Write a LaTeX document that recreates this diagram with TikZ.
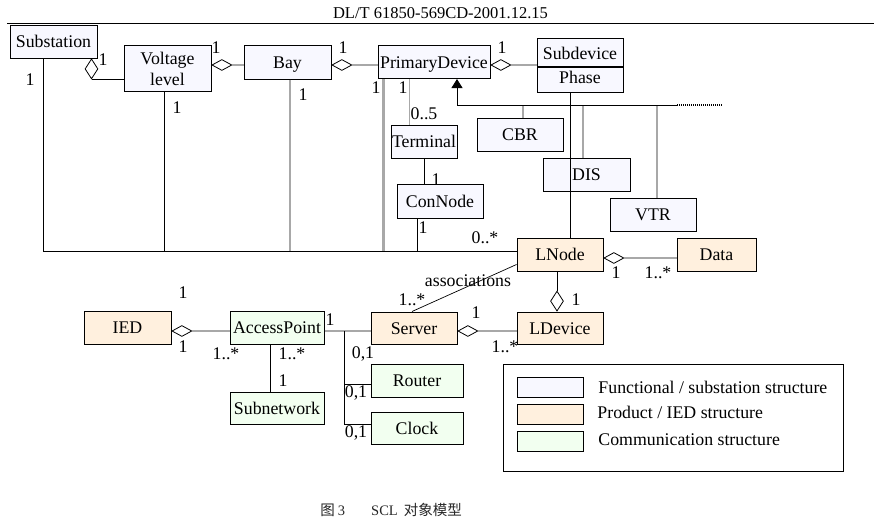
\documentclass[tikz,border=0pt]{standalone}
\usepackage{fontspec}
\setmainfont{Liberation Serif}
\newfontfamily\cjk{Noto Sans CJK SC}
\usetikzlibrary{shapes.geometric,arrows.meta}
\definecolor{funcol}{HTML}{F8F8FF}
\definecolor{procol}{HTML}{FFF0DE}
\definecolor{comcol}{HTML}{F2FFF0}
\definecolor{linegray}{HTML}{A8A8A8}

\begin{document}
\begin{tikzpicture}[x=1pt,y=-1pt,line width=0.9pt,
    every node/.style={font=\fontsize{17.8}{21}\selectfont, inner sep=0pt},
    fbox/.style={draw, line width=1pt, fill=funcol, minimum height=33pt, text height=13pt, text depth=1pt},
    pbox/.style={fbox, fill=procol},
    cbox/.style={fbox, fill=comcol},
    gline/.style={draw=linegray, line width=1.3pt},
    hagg/.style={draw, diamond, fill=white, line width=0.8pt, minimum width=20pt, minimum height=11pt},
    vagg/.style={hagg, minimum width=13pt, minimum height=20pt}]
    \useasboundingbox (0,0) rectangle (887,525) ;

    \node[font=\fontsize{16.5}{18}\selectfont] (hdr) at (440.5,13.5) {DL/T 61850-569CD-2001.12.15} ;
    \draw[line width=1pt] (7,23) -- (874,23) ;

    \node[fbox, minimum width=87pt] (sub) at (53.5,41.5) {Substation} ;
    \node[fbox, minimum width=87pt, minimum height=46pt, align=center, text height=34pt, text depth=0pt] (vl) at (167.5,68) {Voltage\\level} ;
    \node[fbox, minimum width=87pt, minimum height=34pt] (bay) at (287.5,62) {Bay} ;
    \node[fbox, minimum width=112pt] (pd) at (434,62) {PrimaryDevice} ;
    \node[fbox, minimum width=86pt, minimum height=28pt, text height=15pt, text depth=-1pt] (sdev) at (580,52) {Subdevice} ;
    \node[fbox, minimum width=86pt, minimum height=25pt, text height=10pt, text depth=2pt, anchor=north] (phase) at (sdev.south) {Phase} ;
    \node[fbox, minimum width=66pt] (term) at (424,141.5) {Terminal} ;
    \node[fbox, minimum width=86pt, minimum height=34pt] (con) at (440,201) {ConNode} ;
    \node[fbox, minimum width=86pt] (cbr) at (520,134.5) {CBR} ;
    \node[fbox, minimum width=87pt] (dis) at (586.5,174.5) {DIS} ;
    \node[fbox, minimum width=86pt] (vtr) at (653,214.5) {VTR} ;

    \node[pbox, minimum width=86pt] (lnode) at (560,254.5) {LNode} ;
    \node[pbox, minimum width=79pt] (data) at (716.5,254.5) {Data} ;
    \node[pbox, minimum width=86pt, minimum height=32pt] (srv) at (414,328) {Server} ;
    \node[pbox, minimum width=86pt, minimum height=32pt] (ldev) at (560,328) {LDevice} ;
    \node[pbox, minimum width=87pt] (ied) at (127.5,327.5) {IED} ;
    \node[cbox, minimum width=94pt] (ap) at (277,327.5) {AccessPoint} ;
    \node[cbox, minimum width=94pt, minimum height=32pt] (subnet) at (277,408) {Subnetwork} ;
    \node[cbox, minimum width=92pt] (router) at (417,380.5) {Router} ;
    \node[cbox, minimum width=92pt, minimum height=32pt] (clock) at (417,428) {Clock} ;

    \coordinate (bus) at ([yshift=3.5pt]lnode.west) ;
    \coordinate (sbt) at ([xshift=34pt]sub.south west) ;
    \coordinate (vlb) at ([xshift=-3.5pt]vl.south) ;
    \coordinate (bayb) at ([xshift=2.5pt]bay.south) ;
    \coordinate (pdb) at ([xshift=6pt]pd.south west) ;
    \coordinate (pdt) at ([xshift=32pt]pd.south west) ;
    \coordinate (conb) at ([xshift=21pt]con.south west) ;
    \draw (sbt) |- (bus) ;
    \draw (vlb) -- (vlb |- bus) ;
    \draw[gline] (bayb) -- (bayb |- bus) ;
    \draw[gline, line width=2.2pt] (pdb) -- (pdb |- bus) ;
    \draw[gline, line width=1pt] (pdt) -- (pdt |- term.north) ;
    \draw (term.south) -- (term.south |- con.north) ;
    \draw (conb) -- (conb |- bus) ;

    \coordinate (gt) at (457,105) ; \coordinate (ge) at (677,105) ;
    \coordinate (cbrt) at ([xshift=3pt]cbr.north) ;
    \coordinate (dist) at ([xshift=-3.5pt]dis.north) ;
    \coordinate (vtrt) at ([xshift=4pt]vtr.north) ;
    \draw[gline] (cbrt) -- (cbrt |- gt) ;
    \draw[gline] (dist) -- (dist |- gt) ;
    \draw[gline] (vtrt) -- (vtrt |- gt) ;
    \draw[-{Triangle[length=9pt,width=11pt]}] (ge) -- (gt) -- (gt |- pd.south) ;
    \draw[line width=1.5pt, dash pattern=on 1pt off 1pt] (ge) -- ++(45,0) ;
    \coordinate (sdl) at ([xshift=-10pt]phase.south) ;
    \draw (sdl) -- (sdl |- lnode.north) ;

    \node[vagg, anchor=north] (dsv) at ([xshift=-6pt]sub.south east) {} ;
    \draw (dsv.south) -- (dsv.south -| vl.west) ;
    \node[hagg, anchor=west] (dvb) at ([yshift=3pt]vl.east) {} ;
    \draw[gline] (dvb.east) -- (dvb.east -| bay.west) ;
    \node[hagg, anchor=west] (dbp) at ([yshift=-3pt]bay.east) {} ;
    \draw[gline] (dbp.east) -- (dbp.east -| pd.west) ;
    \node[hagg, anchor=west] (dps) at ([yshift=-3pt]pd.east) {} ;
    \draw[gline] (dps.east) -- (dps.east -| sdev.west) ;
    \node[hagg, anchor=west] (dld) at ([yshift=-3.5pt]lnode.east) {} ;
    \draw[gline] (dld.east) -- (dld.east -| data.west) ;
    \node[vagg, anchor=south] (dll) at ([xshift=-3pt]ldev.north) {} ;
    \draw (lnode.south -| dll.north) -- (dll.north) ;
    \node[hagg, anchor=west] (dsl) at ([yshift=-3pt]srv.east) {} ;
    \draw[gline] (dsl.east) -- (dsl.east -| ldev.west) ;
    \node[hagg, anchor=west] (dia) at ([yshift=-3.5pt]ied.east) {} ;
    \draw[gline] (dia.east) -- (dia.east -| ap.west) ;

    \draw[line width=0.7pt] ([xshift=-2pt]srv.north) -- ([yshift=7pt]lnode.south west) ;
    \coordinate (apr) at ([yshift=-3.5pt]ap.east) ;
    \draw[gline] (apr) -- (apr -| srv.west) ;
    \coordinate (brn) at ([xshift=20pt]apr) ;
    \draw (brn) |- ([yshift=-3.5pt]router.west) ;
    \draw (brn) |- ([yshift=4pt]clock.west) ;
    \coordinate (aps) at ([xshift=-7pt]ap.south) ;
    \draw (aps) -- (aps |- subnet.north) ;

    \node (m1) at (30,80) {1} ;
    \node (m2) at (103,60) {1} ;
    \node (m3) at (216,48) {1} ;
    \node (m4) at (177,108) {1} ;
    \node (m5) at (303,95) {1} ;
    \node (m6) at (343,48) {1} ;
    \node (m7) at (376,88) {1} ;
    \node (m8) at (403,88) {1} ;
    \node (m9) at (424,114) {0..5} ;
    \node (m10) at (502,48) {1} ;
    \node (m11) at (436,180) {1} ;
    \node (m12) at (423,228) {1} ;
    \node (m13) at (485,238) {0..*} ;
    \node (m14) at (616,273) {1} ;
    \node (m15) at (658,273) {1..*} ;
    \node (m16) at (576,300) {1} ;
    \node (m17) at (468,281) {associations} ;
    \node (m18) at (412,300) {1..*} ;
    \node (m19) at (476,313) {1} ;
    \node (m20) at (505,347) {1..*} ;
    \node (m21) at (183,293) {1} ;
    \node (m22) at (183,347) {1} ;
    \node (m23) at (226,354) {1..*} ;
    \node (m24) at (292,354) {1..*} ;
    \node (m25) at (330,320) {1} ;
    \node (m26) at (283,381) {1} ;
    \node (m27) at (363,354) {0,1} ;
    \node (m28) at (356,393) {0,1} ;
    \node (m29) at (356,433) {0,1} ;

    \node[draw, line width=1pt, minimum width=340pt, minimum height=107pt] (leg) at (673,417.5) {} ;
    \node[fbox, minimum width=66pt, minimum height=20pt] (sw1) at (550,387) {} ;
    \node[pbox, minimum width=66pt, minimum height=20pt] (sw2) at (550,414) {} ;
    \node[cbox, minimum width=66pt, minimum height=20pt] (sw3) at (550,441) {} ;
    \node[anchor=west] (lt1) at (598,387) {Functional / substation structure} ;
    \node[anchor=west] (lt2) at (597,412) {Product / IED structure} ;
    \node[anchor=west] (lt3) at (598,440) {Communication structure} ;

    \node[anchor=west, font=\fontsize{14.5}{17}\selectfont, text=black!85] (cap) at (320,510) {{\cjk 图}\hspace{3pt}3\hspace{26pt}SCL\hspace{6pt}{\cjk 对象模型}} ;
\end{tikzpicture}
\end{document}
